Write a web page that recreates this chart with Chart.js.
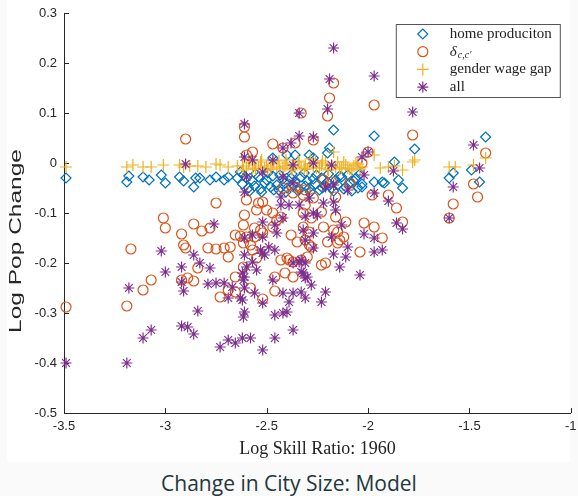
<!DOCTYPE html>
<html>
<head>
<meta charset="UTF-8">
<title>Change in City Size: Model</title>
<script src="https://cdn.jsdelivr.net/npm/chart.js"></script>
<style>
  body { margin: 0; background: #fafafa; width: 578px; height: 496px; overflow: hidden; position: relative; }
  #paper { position: absolute; left: 7px; top: 0; width: 563px; height: 462px; background: #fff; }
  #chart { position: absolute; left: 0; top: 0; }
  #caption { position: absolute; left: 0; top: 469px; width: 578px; text-align: center;
             font-family: "Open Sans", sans-serif; font-size: 21px; line-height: 28px; color: #23373b; }
</style>
</head>
<body>
<div id="paper"></div>
<canvas id="chart" width="578" height="462"></canvas>
<div id="caption">Change in City Size: Model</div>
<script>
// axis ticks
const xTicks = [-3.5, -3, -2.5, -2, -1.5, -1];
const yTicks = [-0.5, -0.4, -0.3, -0.2, -0.1, 0, 0.1, 0.2, 0.3];
const yTitle = 'Log Pop Change';

// home production (diamonds)
const hpX = [-3.49, -3.19, -3.18, -3.11, -3.08, -3.02, -3.00, -2.93, -2.91, -2.86, -2.85, -2.83, -2.78, -2.75, -2.71, -2.69, -2.645, -2.63,
  -2.62, -2.60, -2.59, -2.57, -2.56, -2.54, -2.53, -2.51, -2.50, -2.48, -2.47, -2.45, -2.44, -2.42, -2.41, -2.40, -2.38, -2.37, -2.36, -2.34,
  -2.33, -2.31, -2.30, -2.29, -2.27, -2.26, -2.24, -2.23, -2.21, -2.20, -2.18, -2.16, -2.15, -2.13, -2.11, -2.09, -2.07, -2.05, -2.03,
  -2.615, -2.585, -2.555, -2.525, -2.495, -2.465, -2.435, -2.405, -2.375, -2.345, -2.315, -2.285, -2.255, -2.225, -2.195, -2.17, -2.14,
  -2.12, -2.10, -2.08, -2.06, -2.04,
  -2.47, -2.40, -2.36, -2.29, -2.27, -2.19, -2.17, -1.97, -1.77, -1.87, -2.20,
  -2.03, -1.97, -1.93, -1.92, -1.85, -1.83, -1.60, -1.58, -1.49, -1.45, -1.42];
const hpY = [-0.03, -0.038, -0.026, -0.028, -0.034, -0.024, -0.04, -0.028, -0.036, -0.048, -0.03, -0.03, -0.034, -0.028, -0.034, -0.028, -0.03, -0.018,
  -0.042, -0.03, -0.05, -0.036, -0.046, -0.028, -0.052, -0.04, -0.034, -0.048, -0.026, -0.044, -0.054, -0.032, -0.04, -0.05, -0.03, -0.044, -0.038, -0.052,
  -0.028, -0.046, -0.036, -0.05, -0.032, -0.042, -0.054, -0.03, -0.046, -0.038, -0.05, -0.034, -0.044, -0.028, -0.048, -0.04, -0.036, -0.05, -0.042,
  -0.024, -0.056, -0.022, -0.058, -0.02, -0.054, -0.024, -0.058, -0.022, -0.056, -0.02, -0.058, -0.024, -0.05, -0.022, -0.056, -0.026,
  -0.052, -0.024, -0.056, -0.03, -0.022,
  0.01, 0.016, 0.016, 0.016, 0.01, 0.03, 0.066, 0.054, 0.028, 0.002, 0.02,
  -0.048, -0.038, -0.038, -0.04, -0.034, -0.05, -0.03, -0.02, -0.014, -0.038, 0.052];

// delta_{c,c'} (circles)
const dX = [-2.17, -2.19, -2.20, -1.97, -2.33, -2.61, -2.61, -1.78, -2.47, -2.42, -2.57, -2.00, -2.60, -2.03,
  -2.22, -2.18, -2.09, -2.36, -2.42, -2.37, -2.32, -2.27, -1.90, -1.86, -2.54, -2.52, -2.61, -2.50, -2.47, -2.43,
  -2.615, -2.56, -2.28, -2.11, -2.02, -1.97, -1.83, -1.42, -1.48, -1.46, -1.58, -1.60, -1.98, -1.93, -2.04, -2.23, -2.21,
  -3.49, -3.19, -3.17, -3.11, -3.07, -3.01, -3.00, -2.90, -2.75, -2.86, -2.82, -2.78, -2.92, -2.91, -2.90, -2.79, -2.75,
  -2.71, -2.68, -2.63, -2.60, -2.69, -2.84, -2.92, -2.89, -2.86, -2.73, -2.655, -2.69, -2.58, -2.52, -2.46, -2.46, -2.37,
  -2.41, -2.43, -2.39, -2.33, -2.655, -2.56, -2.57, -2.615, -2.53, -2.38, -2.35, -2.31, -2.28, -2.29, -2.17, -2.15, -2.55,
  -2.615, -2.655,
  -2.36, -2.27, -2.60, -2.55, -2.52, -2.32, -2.32, -2.29, -2.58, -2.22, -2.20, -2.16, -2.15, -2.40, -2.37, -2.30, -2.12,
  -2.14, -2.16, -2.31, -2.23, -2.31, -2.45, -2.47];
const dY = [0.16, 0.13, 0.094, 0.116, 0.10, 0.072, 0.052, 0.056, 0.038, 0.03, 0.022, 0.022, 0.016, 0.0,
  -0.034, -0.038, -0.04, -0.048, -0.05, -0.06, -0.064, -0.07, -0.064, -0.09, -0.08, -0.078, -0.104, -0.094, -0.10, -0.108,
  -0.124, -0.13, -0.11, -0.118, -0.12, -0.128, -0.118, 0.02, -0.042, -0.068, -0.082, -0.11, -0.064, -0.15, -0.178, -0.204, -0.20,
  -0.288, -0.286, -0.172, -0.254, -0.234, -0.11, -0.13, 0.048, -0.08, -0.122, -0.136, -0.13, -0.142, -0.164, -0.17, -0.17, -0.172,
  -0.17, -0.168, -0.146, -0.148, -0.188, -0.21, -0.234, -0.23, -0.236, -0.268, -0.258, -0.254, -0.25, -0.272, -0.256, -0.228, -0.228,
  -0.22, -0.194, -0.194, -0.194, -0.144, -0.148, -0.174, -0.16, -0.134, -0.144, -0.158, -0.154, -0.168, -0.138, -0.134, -0.16, -0.19,
  -0.208, -0.228,
  0.04, 0.046, -0.074, -0.094, -0.14, -0.10, -0.128, -0.164, -0.164, -0.128, -0.158, -0.108, -0.138, -0.19, -0.198, -0.188, -0.148,
  -0.154, -0.068, -0.054, -0.098, -0.084, -0.114, -0.128];

// gender wage gap (plus)
const gX = [-3.49, -3.19, -3.16, -3.11, -3.07, -3.01, -2.93, -2.91, -2.88, -2.84, -2.80, -2.75, -2.73, -2.69, -2.645,
  -2.62, -2.60, -2.59, -2.57, -2.56, -2.54, -2.53, -2.51, -2.50, -2.48, -2.47, -2.45, -2.44, -2.42, -2.41, -2.40, -2.38, -2.37, -2.36, -2.34,
  -2.33, -2.31, -2.30, -2.29, -2.27, -2.26, -2.24, -2.23, -2.21, -2.20, -2.18, -2.16, -2.15, -2.13, -2.11, -2.09, -2.07, -2.05, -2.03,
  -2.615, -2.585, -2.555, -2.525, -2.495, -2.465, -2.435, -2.405, -2.375, -2.345, -2.315, -2.285, -2.255, -2.225, -2.195, -2.17, -2.14,
  -2.12, -2.10, -2.08, -2.06, -2.04,
  -1.97, -1.94, -1.90, -1.87, -1.83, -1.78, -1.77, -1.60, -1.57, -1.48, -1.42];
const gY = [-0.008, -0.008, -0.004, -0.008, -0.008, -0.004, -0.004, -0.008, -0.006, -0.006, -0.008, -0.002, -0.004, -0.008, -0.006,
  -0.006, -0.01, 0.0, -0.012, -0.004, -0.008, 0.002, -0.01, -0.006, -0.012, -0.002, -0.008, 0.004, -0.01, -0.006, 0.0, -0.012, -0.004, -0.008, 0.002,
  -0.01, -0.006, -0.012, -0.002, -0.008, 0.004, -0.01, -0.004, 0.0, -0.012, -0.006, -0.008, 0.002, -0.01, -0.004, -0.012, -0.006, -0.002, -0.008,
  -0.014, 0.004, -0.012, 0.006, -0.014, 0.002, -0.012, 0.006, -0.014, 0.004, -0.012, 0.008, -0.01, 0.004, -0.014, 0.022, -0.012,
  0.002, -0.01, -0.014, 0.0, -0.012,
  0.016, -0.01, -0.008, -0.006, -0.014, 0.002, 0.006, -0.008, -0.008, -0.004, 0.01];

// all (asterisks)
const aX = [-2.17, -2.19, -1.97, -2.20, -2.34, -1.78, -2.61, -2.34, -2.27, -2.38, -2.42, -2.03, -2.00, -2.47, -2.61, -2.57,
  -2.37, -2.18, -2.52, -2.02, -2.60, -2.90, -2.42, -2.21, -2.17, -2.10, -2.61, -1.97, -1.90, -2.43, -2.43, -2.39, -2.34,
  -2.29, -2.22, -2.17, -2.16, -2.31, -2.27, -2.42, -2.52, -2.46, -1.86, -2.13, -1.83, -2.02, -1.97, -1.93, -1.97, -2.10,
  -2.17, -2.11, -2.14, -2.04, -2.32, -2.27, -2.18, -2.61, -2.57, -2.52, -2.45, -2.49, -2.46, -2.31, -2.27, -2.53, -2.61,
  -2.57, -2.51, -2.33, -2.31, -2.47, -2.32, -2.31, -2.28, -2.61, -2.56, -2.52, -2.62, -2.42, -2.37, -2.33, -2.31, -2.39,
  -2.40, -2.42, -2.21, -2.23, -2.46, -2.61, -2.615, -2.37, -2.46, -2.58, -2.62, -2.52,
  -3.49, -3.19, -3.18, -3.11, -3.07, -3.02, -3.00, -2.92, -2.92, -2.91, -2.92, -2.89, -2.86, -2.84, -2.86, -2.83, -2.78,
  -2.76, -2.79, -2.75, -2.71, -2.69, -2.67, -2.63, -2.73, -2.69, -2.655, -2.55, -2.615, -2.62, -2.60, -2.52, -2.37, -2.34,
  -2.33, -2.30, -1.48, -1.45, -1.58, -1.60, -1.875, -2.37, -2.27, -2.25, -2.61];
const aY = [0.23, 0.168, 0.174, 0.108, 0.10, 0.102, 0.078, 0.054, 0.052, 0.04, 0.03, 0.012, 0.022, 0.006, 0.012, 0.006,
  -0.004, -0.004, -0.018, -0.024, -0.028, -0.002, -0.028, -0.048, -0.044, -0.054, -0.058, -0.06, -0.076, -0.068, -0.084, -0.084, -0.084,
  -0.07, -0.08, -0.078, -0.094, -0.106, -0.10, -0.11, -0.118, -0.124, -0.12, -0.124, -0.132, -0.142, -0.15, -0.174, -0.178, -0.168,
  -0.182, -0.188, -0.208, -0.224, -0.134, -0.14, -0.148, -0.15, -0.144, -0.148, -0.14, -0.168, -0.174, -0.154, -0.17, -0.174, -0.184,
  -0.198, -0.184, -0.194, -0.20, -0.234, -0.22, -0.23, -0.244, -0.228, -0.26, -0.28, -0.274, -0.26, -0.26, -0.258, -0.27, -0.278,
  -0.298, -0.30, -0.258, -0.278, -0.304, -0.298, -0.308, -0.334, -0.35, -0.35, -0.35, -0.374,
  -0.40, -0.40, -0.25, -0.35, -0.334, -0.176, -0.218, -0.208, -0.238, -0.256, -0.326, -0.328, -0.342, -0.296, -0.184, -0.20, -0.21,
  -0.122, -0.242, -0.24, -0.24, -0.27, -0.248, -0.27, -0.368, -0.354, -0.36, -0.214, -0.234, -0.22, -0.208, -0.18, -0.20, -0.198,
  -0.218, -0.228, 0.036, -0.01, -0.048, -0.11, -0.016, -0.04, 0.0, -0.104, -0.25];

const axisColor = '#262626';
const toPoints = (xs, ys) => xs.map((x, i) => ({ x: x, y: ys[i] }));

const series = [
  { label: 'home produciton', xs: hpX, ys: hpY, color: '#0072BD', style: 'rectRot', r: 5, order: 4 },
  { label: 'delta', xs: dX, ys: dY, color: '#D95319', style: 'circle', r: 5, order: 3 },
  { label: 'gender wage gap', xs: gX, ys: gY, color: '#EDB120', style: 'cross', r: 6, order: 2 },
  { label: 'all', xs: aX, ys: aY, color: '#7E2F8E', style: 'star', r: 5.5, order: 1 }
];

// inward tick marks like the original
const inwardTicks = {
  id: 'inwardTicks',
  beforeDatasetsDraw(chart) {
    const { ctx, chartArea, scales } = chart;
    ctx.save();
    ctx.strokeStyle = axisColor;
    ctx.lineWidth = 1;
    ctx.beginPath();
    scales.x.ticks.forEach((t, i) => {
      const px = Math.round(scales.x.getPixelForTick(i)) + 0.5;
      ctx.moveTo(px, chartArea.bottom);
      ctx.lineTo(px, chartArea.bottom - 5);
    });
    scales.y.ticks.forEach((t, i) => {
      const py = Math.round(scales.y.getPixelForTick(i)) + 0.5;
      ctx.moveTo(chartArea.left, py);
      ctx.lineTo(chartArea.left + 5, py);
    });
    ctx.stroke();
    ctx.restore();
  }
};

// y label: the original is drawn tall and narrow
const tallYTitle = {
  id: 'tallYTitle',
  afterDraw(chart) {
    const { ctx, chartArea } = chart;
    ctx.save();
    ctx.font = '17px "Liberation Sans"';
    const tw = ctx.measureText(yTitle).width;
    ctx.translate(16, chartArea.top + 228);
    ctx.rotate(-Math.PI / 2);
    ctx.scale(184 / tw, 1);
    ctx.fillStyle = axisColor;
    ctx.textAlign = 'center';
    ctx.textBaseline = 'middle';
    ctx.fillText(yTitle, 0, 0);
    ctx.restore();
  }
};

// boxed legend in the top right corner
const boxLegend = {
  id: 'boxLegend',
  afterDraw(chart) {
    const { ctx, chartArea } = chart;
    const w = 164, h = 73;
    const x0 = chartArea.right - 175, y0 = chartArea.top + 11;
    ctx.save();
    ctx.fillStyle = '#fff';
    ctx.fillRect(x0, y0, w, h);
    ctx.strokeStyle = '#555';
    ctx.lineWidth = 1;
    ctx.strokeRect(x0 + 0.5, y0 + 0.5, w, h);
    series.forEach((s, i) => {
      const cy = y0 + 10 + i * 17.7;
      ctx.strokeStyle = s.color;
      ctx.fillStyle = 'rgba(0,0,0,0)';
      ctx.lineWidth = 1.2;
      Chart.helpers.drawPoint(ctx, { pointStyle: s.style, radius: s.r, rotation: 0, borderWidth: 1.2 }, x0 + 27, cy);
      ctx.fillStyle = '#222';
      ctx.textBaseline = 'middle';
      ctx.textAlign = 'left';
      const tx = x0 + 54;
      if (s.label === 'delta') {
        ctx.font = 'italic 15px "Liberation Serif"';
        ctx.fillText('\u03B4', tx, cy);
        const dw = ctx.measureText('\u03B4').width;
        ctx.font = 'italic 10px "Liberation Serif"';
        ctx.fillText('c,c\u2032', tx + dw + 1, cy + 4);
      } else {
        ctx.font = '15px "Liberation Serif"';
        ctx.fillText(s.label, tx, cy);
      }
    });
    ctx.restore();
  }
};

new Chart(document.getElementById('chart'), {
  type: 'scatter',
  data: {
    datasets: series.map(s => ({
      label: s.label,
      data: toPoints(s.xs, s.ys),
      order: s.order,
      pointStyle: s.style,
      pointRadius: s.r,
      pointHoverRadius: s.r,
      pointBorderWidth: 1.2,
      borderColor: s.color,
      pointBorderColor: s.color,
      backgroundColor: 'rgba(0,0,0,0)',
      pointBackgroundColor: 'rgba(0,0,0,0)',
      clip: false
    }))
  },
  options: {
    responsive: false,
    animation: false,
    layout: { padding: { left: 0, top: 13, right: 7, bottom: 0 } },
    plugins: { legend: { display: false }, tooltip: { enabled: false } },
    scales: {
      x: {
        type: 'linear', min: -3.5, max: -1,
        afterBuildTicks: s => { s.ticks = xTicks.map(v => ({ value: v })); },
        afterFit: s => { s.height = 49; s.paddingLeft = 0; s.paddingRight = 0; },
        grid: { display: true, drawOnChartArea: false, drawTicks: false },
        border: { display: true, color: axisColor, width: 1 },
        ticks: { color: axisColor, padding: 6, font: { family: 'Liberation Sans', size: 13 }, callback: v => String(v) },
        title: { display: true, text: 'Log Skill Ratio: 1960', color: '#222', padding: { top: 0, bottom: 2 },
                 font: { family: 'Liberation Serif', size: 18 } }
      },
      y: {
        type: 'linear', min: -0.5, max: 0.3,
        afterBuildTicks: s => { s.ticks = yTicks.map(v => ({ value: v })); },
        afterFit: s => { s.width = 64; s.paddingTop = 0; s.paddingBottom = 0; },
        grid: { display: true, drawOnChartArea: false, drawTicks: false },
        border: { display: true, color: axisColor, width: 1 },
        ticks: { color: axisColor, padding: 7, font: { family: 'Liberation Sans', size: 13 }, callback: v => String(v) },
        title: { display: false }
      }
    }
  },
  plugins: [inwardTicks, tallYTitle, boxLegend]
});
</script>
</body>
</html>
